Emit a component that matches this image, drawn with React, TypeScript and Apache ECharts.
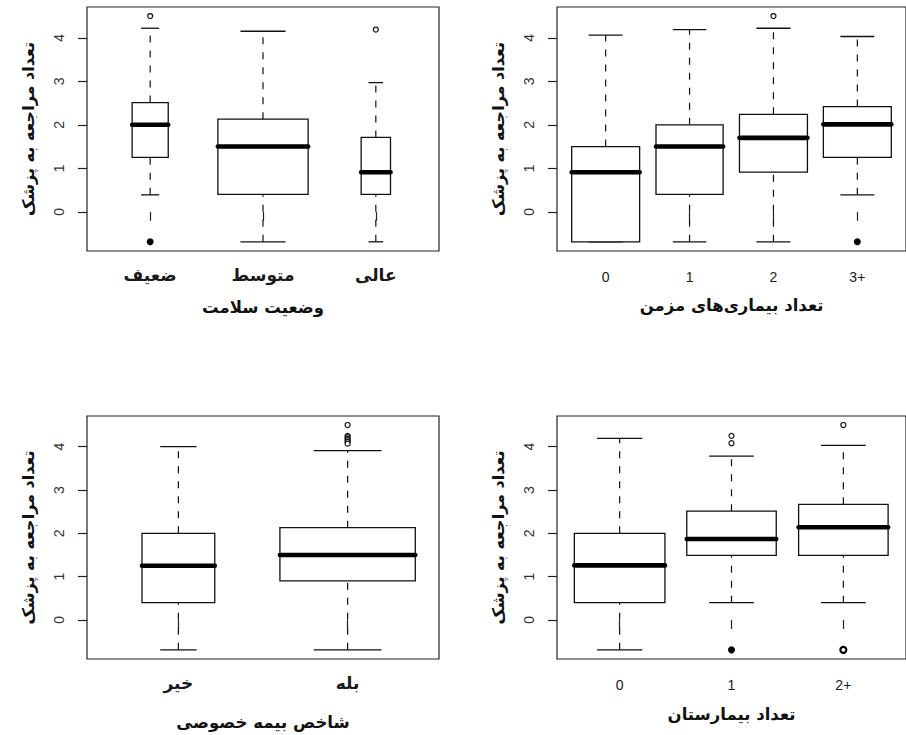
import React, { useEffect, useRef } from "react";
import * as echarts from "echarts";

// ---------- Data (log scale values) ----------
// Panel 1: health status
const healthCats = ["ضعیف", "متوسط", "عالی"];
const healthLow = [0.39, -0.69, -0.69];
const healthQ1 = [1.25, 0.4, 0.4];
const healthMed = [2.0, 1.5, 0.91];
const healthQ3 = [2.51, 2.13, 1.71];
const healthHigh = [4.22, 4.15, 2.97];
const healthWidth = [0.32, 0.8, 0.26];
// outliers: [category position, value, kind] kind 0=open, 1=filled, 2=heavy
const healthOut = [
  [1, 4.5, 0],
  [3, 4.19, 0],
  [1, -0.69, 1],
];

// Panel 2: number of chronic diseases
const chronicCats = ["0", "1", "2", "\u200E3+\u200E"];
const chronicLow = [-0.69, -0.69, -0.69, 0.39];
const chronicQ1 = [-0.69, 0.4, 0.91, 1.25];
const chronicMed = [0.91, 1.5, 1.7, 2.01];
const chronicQ3 = [1.5, 2.0, 2.24, 2.42];
const chronicHigh = [4.06, 4.19, 4.22, 4.03];
const chronicWidth = [0.81, 0.8, 0.81, 0.81];
const chronicOut = [
  [3, 4.5, 0],
  [4, -0.69, 1],
];

// Panel 3: private insurance
const insCats = ["خیر", "بله"];
const insLow = [-0.69, -0.69];
const insQ1 = [0.4, 0.9];
const insMed = [1.25, 1.5];
const insQ3 = [2.0, 2.13];
const insHigh = [4.0, 3.91];
const insWidth = [0.43, 0.8];
const insOut = [
  [2, 4.5, 0],
  [2, 4.25, 0],
  [2, 4.22, 0],
  [2, 4.18, 0],
  [2, 4.15, 0],
  [2, 4.11, 0],
  [2, 4.07, 0],
];

// Panel 4: number of hospital stays
const hospCats = ["0", "1", "\u200E2+\u200E"];
const hospLow = [-0.69, 0.4, 0.4];
const hospQ1 = [0.4, 1.49, 1.49];
const hospMed = [1.26, 1.87, 2.14];
const hospQ3 = [2.0, 2.51, 2.67];
const hospHigh = [4.19, 3.78, 4.03];
const hospWidth = [0.81, 0.8, 0.8];
const hospOut = [
  [2, 4.25, 0],
  [2, 4.08, 0],
  [3, 4.5, 0],
  [2, -0.69, 1],
  [3, -0.69, 2],
];

const yTicks = [0, 1, 2, 3, 4];
const yName = "تعداد مراجعه به پزشک";
const xNames = ["وضعیت سلامت", "تعداد بیماری‌های مزمن", "شاخص بیمه خصوصی", "تعداد بیمارستان"];

// ---------- Layout ----------
const Y_MIN = -0.901;
const Y_MAX = 4.708;
const INK = "#111";
const ARABIC_FONT = "DejaVu Sans";
const DIGIT_FONT = "Liberation Sans";

type Panel = {
  cats: string[];
  low: number[];
  q1: number[];
  med: number[];
  q3: number[];
  high: number[];
  width: number[];
  out: number[][];
  grid: { left: number; top: number; width: number; height: number };
  xName: string;
  xNameGap: number;
  arabicCats: boolean;
};

const panels: Panel[] = [
  {
    cats: healthCats, low: healthLow, q1: healthQ1, med: healthMed, q3: healthQ3, high: healthHigh,
    width: healthWidth, out: healthOut,
    grid: { left: 87, top: 7, width: 352, height: 244 },
    xName: xNames[0], xNameGap: 48, arabicCats: true,
  },
  {
    cats: chronicCats, low: chronicLow, q1: chronicQ1, med: chronicMed, q3: chronicQ3, high: chronicHigh,
    width: chronicWidth, out: chronicOut,
    grid: { left: 557, top: 7, width: 351, height: 244 },
    xName: xNames[1], xNameGap: 46, arabicCats: false,
  },
  {
    cats: insCats, low: insLow, q1: insQ1, med: insMed, q3: insQ3, high: insHigh,
    width: insWidth, out: insOut,
    grid: { left: 87, top: 416, width: 352, height: 243 },
    xName: xNames[2], xNameGap: 55, arabicCats: true,
  },
  {
    cats: hospCats, low: hospLow, q1: hospQ1, med: hospMed, q3: hospQ3, high: hospHigh,
    width: hospWidth, out: hospOut,
    grid: { left: 557, top: 416, width: 351, height: 243 },
    xName: xNames[3], xNameGap: 47, arabicCats: false,
  },
];

function renderBox(params: any, api: any) {
  const x = api.value(0);
  const lo = api.value(1);
  const q1 = api.value(2);
  const md = api.value(3);
  const q3 = api.value(4);
  const hi = api.value(5);
  const w = api.value(6);
  const cx = api.coord([x, md])[0];
  const xl = api.coord([x - w / 2, md])[0];
  const xr = api.coord([x + w / 2, md])[0];
  const cl = api.coord([x - w / 4, md])[0];
  const cr = api.coord([x + w / 4, md])[0];
  const yLo = api.coord([x, lo])[1];
  const yQ1 = api.coord([x, q1])[1];
  const yMd = api.coord([x, md])[1];
  const yQ3 = api.coord([x, q3])[1];
  const yHi = api.coord([x, hi])[1];
  const dash = { stroke: INK, lineWidth: 1.2, lineDash: [7, 8] };
  const solid = { stroke: INK, lineWidth: 1.3 };
  return {
    type: "group",
    children: [
      { type: "line", shape: { x1: cx, y1: yQ3, x2: cx, y2: yHi }, style: dash },
      { type: "line", shape: { x1: cx, y1: yLo, x2: cx, y2: yQ1 }, style: dash },
      { type: "line", shape: { x1: cl, y1: yHi, x2: cr, y2: yHi }, style: solid },
      { type: "line", shape: { x1: cl, y1: yLo, x2: cr, y2: yLo }, style: solid },
      {
        type: "rect",
        shape: { x: xl, y: yQ3, width: xr - xl, height: yQ1 - yQ3 },
        style: { fill: "#fff", stroke: INK, lineWidth: 1.3 },
      },
      {
        type: "line",
        shape: { x1: xl, y1: yMd, x2: xr, y2: yMd },
        style: { stroke: "#000", lineWidth: 4.6, lineCap: "round" },
      },
    ],
  };
}

function buildOption() {
  const grid: any[] = [];
  const xAxis: any[] = [];
  const yAxis: any[] = [];
  const series: any[] = [];
  panels.forEach((p, i) => {
    const n = p.cats.length;
    const pad = n * 0.04;
    const positions = p.cats.map((_, k) => k + 1);
    grid.push({
      ...p.grid,
      show: true,
      borderColor: "#222",
      borderWidth: 1.2,
      backgroundColor: "transparent",
      containLabel: false,
    });
    xAxis.push({
      type: "value",
      gridIndex: i,
      min: 0.5 - pad / 2,
      max: n + 0.5 + pad / 2,
      axisLine: { show: false },
      splitLine: { show: false },
      axisTick: { show: true, customValues: positions, length: 9, lineStyle: { color: "#222", width: 1.2 } },
      axisLabel: {
        show: true,
        customValues: positions,
        margin: p.arabicCats ? 15 : 19,
        formatter: (v: number) => p.cats[Math.round(v) - 1] ?? "",
        color: "#1a1a1a",
        fontSize: p.arabicCats ? 17 : 14,
        fontWeight: p.arabicCats ? "bold" : "normal",
        fontFamily: p.arabicCats ? ARABIC_FONT : DIGIT_FONT,
      },
      name: p.xName,
      nameLocation: "middle",
      nameGap: p.xNameGap,
      nameTextStyle: { fontFamily: ARABIC_FONT, fontWeight: "bold", fontSize: 16.5, color: "#111" },
    });
    yAxis.push({
      type: "value",
      gridIndex: i,
      min: Y_MIN,
      max: Y_MAX,
      axisLine: { show: false },
      splitLine: { show: false },
      axisTick: { show: true, customValues: yTicks, length: 9, lineStyle: { color: "#222", width: 1.2 } },
      axisLabel: {
        show: true,
        customValues: yTicks,
        rotate: 90,
        margin: 21,
        color: "#333",
        fontSize: 14,
        fontFamily: DIGIT_FONT,
      },
      name: yName,
      nameLocation: "middle",
      nameGap: 51,
      nameTextStyle: { fontFamily: ARABIC_FONT, fontWeight: "bold", fontSize: 16, color: "#111" },
    });
    const boxData = p.cats.map((_, k) => [k + 1, p.low[k], p.q1[k], p.med[k], p.q3[k], p.high[k], p.width[k]]);
    series.push({
      type: "custom",
      xAxisIndex: i,
      yAxisIndex: i,
      renderItem: renderBox,
      encode: { x: 0, y: [1, 2, 3, 4, 5] },
      data: boxData,
      silent: true,
    });
    const openPts = p.out.filter((o) => o[2] === 0).map((o) => [o[0], o[1]]);
    const filledPts = p.out.filter((o) => o[2] === 1).map((o) => [o[0], o[1]]);
    const heavyPts = p.out.filter((o) => o[2] === 2).map((o) => [o[0], o[1]]);
    series.push({
      type: "scatter",
      xAxisIndex: i,
      yAxisIndex: i,
      symbol: "circle",
      symbolSize: 5,
      itemStyle: { color: "#fff", borderColor: INK, borderWidth: 1.2, opacity: 1 },
      data: openPts,
      silent: true,
    });
    series.push({
      type: "scatter",
      xAxisIndex: i,
      yAxisIndex: i,
      symbol: "circle",
      symbolSize: 7,
      itemStyle: { color: "#000", borderColor: "#000", borderWidth: 0, opacity: 1 },
      data: filledPts,
      silent: true,
    });
    series.push({
      type: "scatter",
      xAxisIndex: i,
      yAxisIndex: i,
      symbol: "circle",
      symbolSize: 6,
      itemStyle: { color: "#fff", borderColor: "#000", borderWidth: 2.2, opacity: 1 },
      data: heavyPts,
      silent: true,
    });
  });
  return {
    animation: false,
    backgroundColor: "#fff",
    grid,
    xAxis,
    yAxis,
    series,
  };
}

export default function App() {
  const ref = useRef<HTMLDivElement>(null);
  useEffect(() => {
    if (!ref.current) return;
    const chart = echarts.init(ref.current, null, { renderer: "svg" });
    chart.setOption(buildOption() as any);
    return () => chart.dispose();
  }, []);
  return (
    <div
      ref={ref}
      style={{ position: "absolute", left: 0, top: 0, width: 906, height: 735, background: "#fff" }}
    />
  );
}
